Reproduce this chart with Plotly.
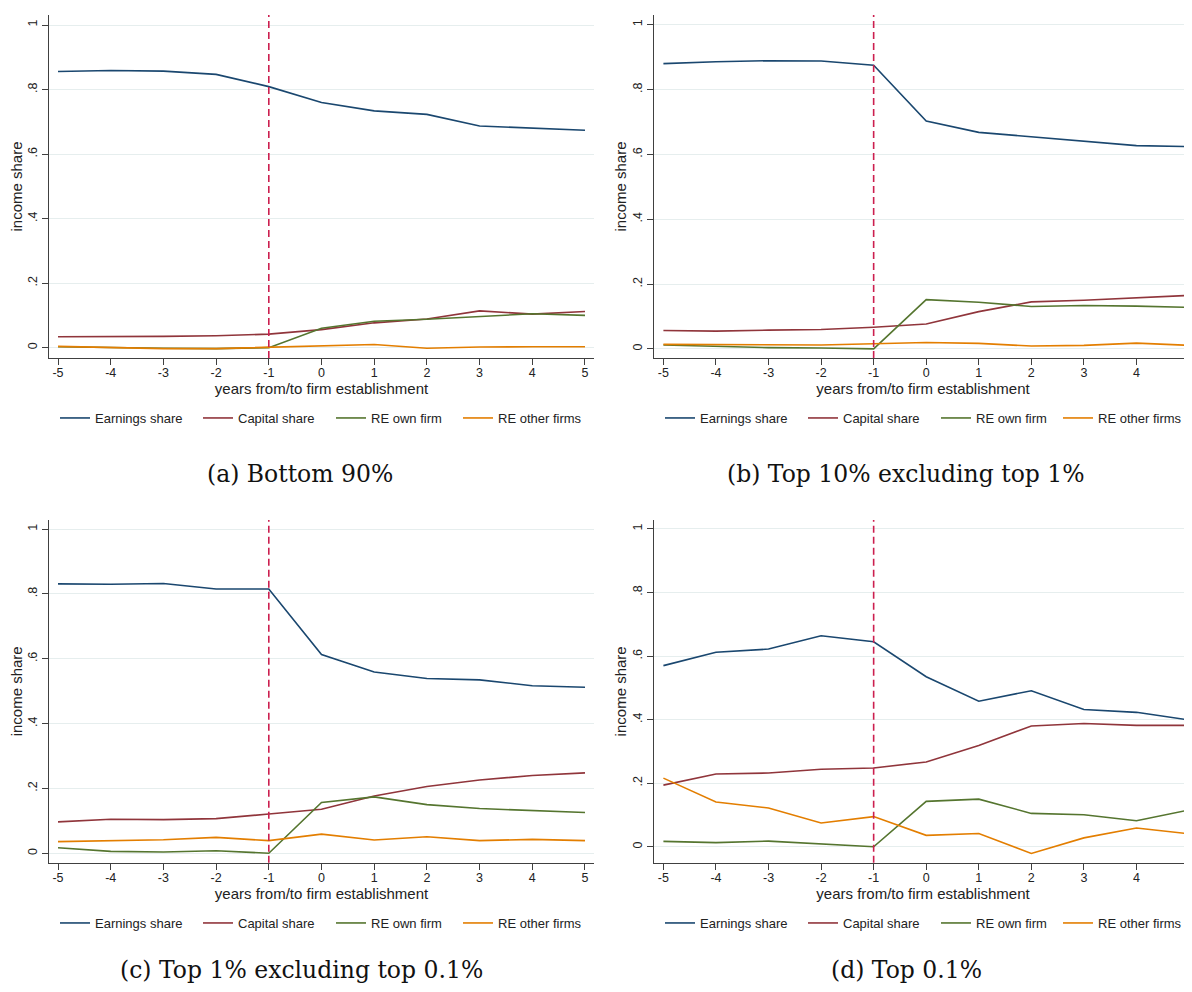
import plotly.graph_objs as go

years = [-5, -4, -3, -2, -1, 0, 1, 2, 3, 4, 5]
x_tick_labels = ['-5', '-4', '-3', '-2', '-1', '0', '1', '2', '3', '4', '5']
event_year = -1

y_tick_values = [0, 0.2, 0.4, 0.6, 0.8, 1]
y_tick_labels = ['0', '.2', '.4', '.6', '.8', '1']

series_names = ['Earnings share', 'Capital share', 'RE own firm', 'RE other firms']

# (a) Bottom 90%
bottom90_earnings = [0.856, 0.859, 0.857, 0.847, 0.809, 0.760, 0.734, 0.723, 0.687, 0.681, 0.674]
bottom90_capital = [0.034, 0.034, 0.035, 0.037, 0.042, 0.056, 0.077, 0.089, 0.114, 0.104, 0.112]
bottom90_re_own = [0.003, 0.000, -0.002, -0.003, 0.000, 0.060, 0.082, 0.088, 0.096, 0.105, 0.100]
bottom90_re_other = [0.004, 0.000, -0.003, -0.003, 0.001, 0.005, 0.010, -0.002, 0.002, 0.003, 0.003]

# (b) Top 10% excluding top 1%
top10_earnings = [0.880, 0.886, 0.889, 0.888, 0.875, 0.703, 0.668, 0.655, 0.640, 0.627, 0.624]
top10_capital = [0.057, 0.055, 0.058, 0.060, 0.067, 0.077, 0.115, 0.145, 0.150, 0.157, 0.165]
top10_re_own = [0.012, 0.007, 0.004, 0.003, 0.000, 0.152, 0.144, 0.131, 0.134, 0.132, 0.128]
top10_re_other = [0.014, 0.013, 0.012, 0.012, 0.016, 0.020, 0.017, 0.009, 0.011, 0.018, 0.011]

# (c) Top 1% excluding top 0.1%
top1_earnings = [0.831, 0.830, 0.832, 0.815, 0.815, 0.613, 0.559, 0.539, 0.535, 0.517, 0.512]
top1_capital = [0.097, 0.105, 0.104, 0.107, 0.121, 0.136, 0.177, 0.206, 0.226, 0.240, 0.248]
top1_re_own = [0.017, 0.006, 0.004, 0.008, 0.000, 0.157, 0.174, 0.150, 0.138, 0.132, 0.126]
top1_re_other = [0.036, 0.040, 0.042, 0.049, 0.039, 0.059, 0.041, 0.051, 0.039, 0.043, 0.039]

# (d) Top 0.1%
top01_earnings = [0.570, 0.612, 0.622, 0.664, 0.645, 0.535, 0.458, 0.491, 0.432, 0.423, 0.399]
top01_capital = [0.194, 0.229, 0.232, 0.244, 0.248, 0.267, 0.319, 0.380, 0.388, 0.382, 0.382]
top01_re_own = [0.017, 0.013, 0.018, 0.008, 0.000, 0.143, 0.150, 0.105, 0.101, 0.082, 0.116]
top01_re_other = [0.216, 0.141, 0.122, 0.075, 0.095, 0.036, 0.042, -0.021, 0.028, 0.059, 0.041]

captions = ['(a) Bottom 90%', '(b) Top 10% excluding top 1%',
            '(c) Top 1% excluding top 0.1%', '(d) Top 0.1%']

color_list = ['#1a476f', '#90353b', '#55752f', '#e37e00']
vline_color = '#cc1f4f'
axis_color = '#404040'
grid_color = '#e6eeee'
text_color = '#222222'
sans = 'Liberation Sans, Arial, sans-serif'

# the page body keeps its 8px margin: page pixels are shifted back by it and
# the figure is kept short enough that the page does not scroll
OFF = 8
W, H = 1192, 992 - 2 * OFF

# page x where each legend key line starts
legend_key_left = [61, 204, 337, 464]
legend_key_right = [666, 809, 942, 1064]

# page-pixel boxes of each plot region: left, right, top, bottom
panels = [
    dict(data=[bottom90_earnings, bottom90_capital, bottom90_re_own, bottom90_re_other],
         box=(49, 594, 15, 358), xr=[-5.171, 5.171], yr=[-0.032, 1.031],
         keys=legend_key_left, legend_y=418, cap=(300, 474)),
    dict(data=[top10_earnings, top10_capital, top10_re_own, top10_re_other],
         box=(654, 1192, 15, 358), xr=[-5.179, 5.057], yr=[-0.028, 1.030],
         keys=legend_key_right, legend_y=418, cap=(906, 474)),
    dict(data=[top1_earnings, top1_capital, top1_re_own, top1_re_other],
         box=(49, 594, 520, 862.7), xr=[-5.171, 5.171], yr=[-0.029, 1.028],
         keys=legend_key_left, legend_y=923, cap=(301, 970)),
    dict(data=[top01_earnings, top01_capital, top01_re_own, top01_re_other],
         box=(654, 1192, 520, 862.7), xr=[-5.179, 5.057], yr=[-0.050, 1.028],
         keys=legend_key_right, legend_y=923, cap=(906, 970)),
]


def px_x(p):
    return (p - OFF) / W


def px_y(p):
    return 1 - (p - OFF) / H


fig = go.Figure()
layout = dict(width=W, height=H, margin=dict(l=0, r=0, t=0, b=0),
              paper_bgcolor='white', plot_bgcolor='white', showlegend=True,
              font=dict(family=sans, color=text_color),
              shapes=[], annotations=[])

legend_count = 0
for i, panel in enumerate(panels):
    n = '' if i == 0 else str(i + 1)
    left, right, top, bottom = panel['box']
    for j, values in enumerate(panel['data']):
        legend_count += 1
        legend_name = 'legend' if legend_count == 1 else 'legend' + str(legend_count)
        fig.add_trace(go.Scatter(x=years, y=values, mode='lines',
                                 name=series_names[j], showlegend=True,
                                 line=dict(color=color_list[j], width=1.6),
                                 xaxis='x' + n, yaxis='y' + n,
                                 legend=legend_name))
        layout[legend_name] = dict(
            orientation='h', xanchor='left', yanchor='middle',
            x=px_x(panel['keys'][j] - 6), y=px_y(panel['legend_y']),
            font=dict(size=13, color=text_color), bgcolor='rgba(0,0,0,0)',
            visible=True)
    layout['xaxis' + n] = dict(
        domain=[px_x(left), min(px_x(right), 1.0)], range=panel['xr'],
        anchor='y' + n, tickvals=years, ticktext=x_tick_labels,
        ticks='outside', ticklen=6, tickcolor=axis_color,
        ticklabelstandoff=-3, ticklabeloverflow='allow',
        showline=True, linecolor=axis_color, linewidth=1.3,
        showgrid=False, zeroline=False,
        tickfont=dict(size=12.5, color=text_color),
        title=dict(text='years from/to firm establishment',
                   font=dict(size=15, color=text_color), standoff=0))
    layout['yaxis' + n] = dict(
        domain=[px_y(bottom), px_y(top)], range=panel['yr'], anchor='x' + n,
        tickvals=y_tick_values, ticktext=y_tick_labels, tickangle=-90,
        ticks='outside', ticklen=6, tickcolor=axis_color,
        showline=True, linecolor=axis_color, linewidth=1.3,
        showgrid=True, gridcolor=grid_color, gridwidth=1, zeroline=False,
        tickfont=dict(size=12.5, color=text_color),
        title=dict(text='income share', font=dict(size=15, color=text_color),
                   standoff=0))
    layout['shapes'].append(dict(
        type='line', xref='x' + n, yref='y' + n + ' domain',
        x0=event_year, x1=event_year, y0=0, y1=1,
        line=dict(color=vline_color, width=1.6, dash='7px,4px')))
    cx, cy = panel['cap']
    layout['annotations'].append(dict(
        text=captions[i], xref='paper', yref='paper', x=px_x(cx), y=px_y(cy),
        xanchor='center', yanchor='middle', showarrow=False,
        font=dict(family='DejaVu Serif, serif', size=23.5, color='#111111')))

fig.update_layout(**layout)
fig.write_html("out.html")
